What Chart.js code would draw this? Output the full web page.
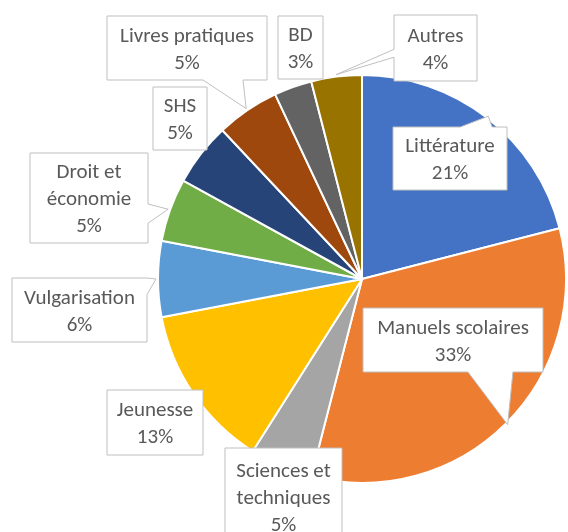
<!DOCTYPE html>
<html>
<head>
<meta charset="utf-8">
<script src="https://cdn.jsdelivr.net/npm/chart.js@4/dist/chart.umd.min.js"></script>
<style>
  html, body { margin: 0; padding: 0; background: #ffffff; }
  canvas { display: block; }
</style>
</head>
<body>
<canvas id="c" width="568" height="532"></canvas>
<script>
// ---- Data ----
const categories = [
  "Littérature", "Manuels scolaires", "Sciences et techniques", "Jeunesse",
  "Vulgarisation", "Droit et économie", "SHS", "Livres pratiques", "BD", "Autres"
];
const shares = [21, 33, 5, 13, 6, 5, 5, 5, 3, 4];

// ---- Styles ----
const sliceColors = [
  "#4472C4", "#ED7D31", "#A5A5A5", "#FFC000", "#5B9BD5",
  "#70AD47", "#264478", "#9E480E", "#636363", "#997300"
];

// Callout box rectangles [left, top, right, bottom] and wedge specs (layout only)
const calloutBoxes = [
  [393, 127, 507, 190],
  [363, 308, 543, 372],
  [225, 448, 342, 548],
  [107, 390, 203, 455],
  [12, 278, 147, 342],
  [30, 153, 148, 243],
  [153, 87, 207, 150],
  [107, 16, 267, 80],
  [278, 16, 323, 79],
  [394, 15, 477, 81]
];
const calloutWedges = [
  { edge: "top", a: 0.59, b: 0.87 },
  { edge: "bottom", a: 0.583, b: 0.833 },
  null,
  null,
  { edge: "right", a: 0.0, b: 0.26 },
  { edge: "right", a: 0.567, b: 0.78 },
  null,
  { edge: "bottom", a: 0.6, b: 0.85 },
  null,
  { edge: "left", a: 0.52, b: 0.64 }
];

const FONT = '21px Carlito, Calibri, Lato, sans-serif';
const LINE_H = 27;

function wrapText(ctx, text, maxW) {
  const words = text.split(" ");
  const lines = [];
  let cur = "";
  for (const w of words) {
    const t = cur ? cur + " " + w : w;
    if (ctx.measureText(t).width <= maxW || !cur) cur = t;
    else { lines.push(cur); cur = w; }
  }
  if (cur) lines.push(cur);
  return lines;
}

const calloutPlugin = {
  id: "callouts",
  afterDatasetsDraw(chart) {
    const ctx = chart.ctx;
    const meta = chart.getDatasetMeta(0);
    const total = shares.reduce((s, v) => s + v, 0);
    ctx.save();
    ctx.font = FONT;
    meta.data.forEach((arc, i) => {
      const [l, t, r, b] = calloutBoxes[i];
      const w = r - l, h = b - t;
      const wedge = calloutWedges[i];
      const mid = (arc.startAngle + arc.endAngle) / 2;
      const tipX = arc.x + Math.cos(mid) * (arc.outerRadius + 2);
      const tipY = arc.y + Math.sin(mid) * (arc.outerRadius + 2);

      ctx.beginPath();
      ctx.moveTo(l, t);
      if (wedge && wedge.edge === "top") {
        ctx.lineTo(l + w * wedge.a, t); ctx.lineTo(tipX, tipY); ctx.lineTo(l + w * wedge.b, t);
      }
      ctx.lineTo(r, t);
      if (wedge && wedge.edge === "right") {
        ctx.lineTo(r, t + h * wedge.a); ctx.lineTo(tipX, tipY); ctx.lineTo(r, t + h * wedge.b);
      }
      ctx.lineTo(r, b);
      if (wedge && wedge.edge === "bottom") {
        ctx.lineTo(l + w * wedge.b, b); ctx.lineTo(tipX, tipY); ctx.lineTo(l + w * wedge.a, b);
      }
      ctx.lineTo(l, b);
      if (wedge && wedge.edge === "left") {
        ctx.lineTo(l, t + h * wedge.b); ctx.lineTo(tipX, tipY); ctx.lineTo(l, t + h * wedge.a);
      }
      ctx.closePath();
      ctx.fillStyle = "#ffffff";
      ctx.fill();
      ctx.strokeStyle = "#BFBFBF";
      ctx.lineWidth = 1;
      ctx.stroke();

      const lines = wrapText(ctx, categories[i], w - 10);
      lines.push(Math.round(shares[i] / total * 100) + "%");
      ctx.fillStyle = "#595959";
      ctx.textAlign = "center";
      ctx.textBaseline = "alphabetic";
      const cx = (l + r) / 2;
      let cy = (t + b) / 2;
      if (i === 2) cy = 497; // box extends below the canvas
      lines.forEach((ln, k) => {
        const y = cy + (k - (lines.length - 1) / 2) * LINE_H + 7;
        ctx.fillText(ln, cx, y);
      });
    });
    ctx.restore();
  }
};

new Chart(document.getElementById("c"), {
  type: "pie",
  data: {
    labels: categories,
    datasets: [{
      data: shares,
      backgroundColor: sliceColors,
      borderColor: "#ffffff",
      borderWidth: 2
    }]
  },
  options: {
    responsive: false,
    animation: false,
    devicePixelRatio: 1,
    layout: { padding: { left: 157, right: 1, top: 74, bottom: 48 } },
    plugins: {
      legend: { display: false },
      tooltip: { enabled: false }
    }
  },
  plugins: [calloutPlugin]
});
</script>
</body>
</html>
